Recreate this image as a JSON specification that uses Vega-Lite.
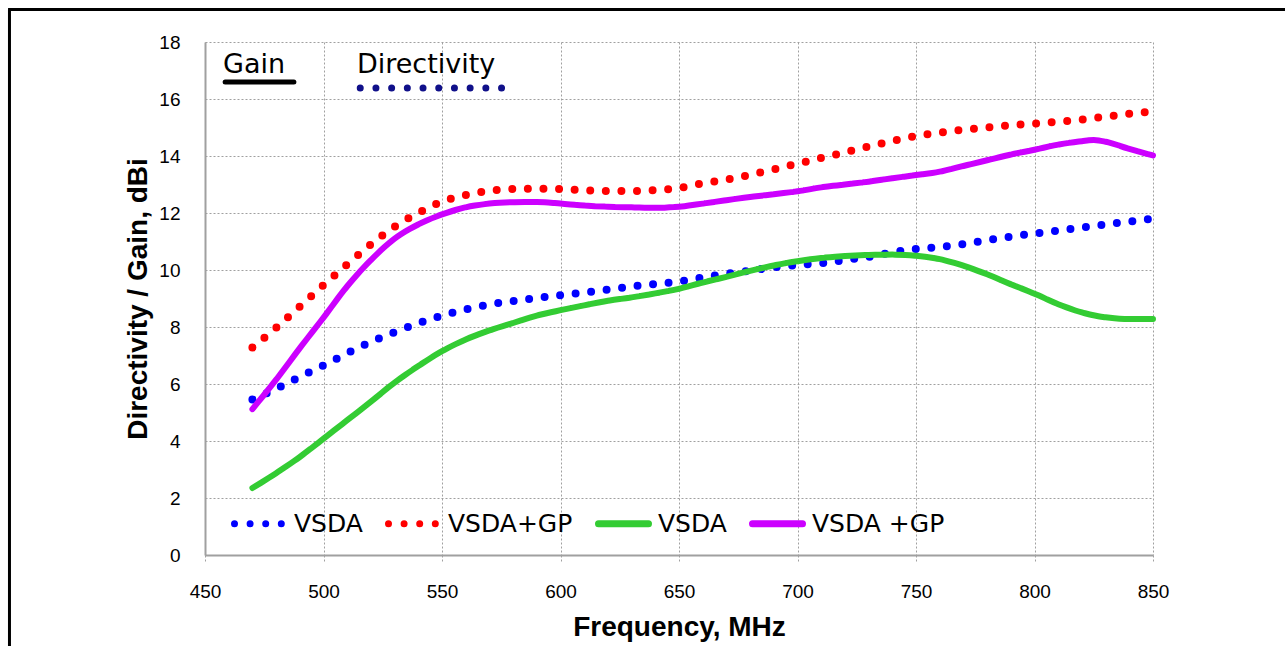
{
  "$schema": "https://vega.github.io/schema/vega-lite/v6.json",
  "autosize": {"type": "none"},
  "padding": {"left": 205, "top": 42, "right": 132, "bottom": 91},
  "width": 948,
  "height": 513,
  "background": "#ffffff",
  "config": {
    "view": {"stroke": null},
    "axis": {
      "grid": true,
      "gridColor": "#a0a0a0",
      "gridDash": [2, 2],
      "gridWidth": 1,
      "domainColor": "#a0a0a0",
      "domainWidth": 2,
      "labelFont": "Liberation Sans",
      "labelFontSize": 19,
      "labelColor": "#000000",
      "labelFlush": false,
      "labelOverlap": false,
      "titleFont": "Liberation Sans",
      "titleFontSize": 28,
      "titleFontWeight": "bold",
      "titleColor": "#000000"
    },
    "legend": {
      "labelFont": "DejaVu Sans",
      "labelFontSize": 25,
      "labelColor": "#000000"
    }
  },
  "datasets": {
    "curves": [
      {"f": 470, "v": 5.46, "s": "Directivity: VSDA"},
      {"f": 480, "v": 5.83, "s": "Directivity: VSDA"},
      {"f": 490, "v": 6.25, "s": "Directivity: VSDA"},
      {"f": 500, "v": 6.65, "s": "Directivity: VSDA"},
      {"f": 510, "v": 7.08, "s": "Directivity: VSDA"},
      {"f": 520, "v": 7.48, "s": "Directivity: VSDA"},
      {"f": 530, "v": 7.82, "s": "Directivity: VSDA"},
      {"f": 540, "v": 8.13, "s": "Directivity: VSDA"},
      {"f": 550, "v": 8.4, "s": "Directivity: VSDA"},
      {"f": 560, "v": 8.62, "s": "Directivity: VSDA"},
      {"f": 570, "v": 8.79, "s": "Directivity: VSDA"},
      {"f": 580, "v": 8.91, "s": "Directivity: VSDA"},
      {"f": 590, "v": 9.02, "s": "Directivity: VSDA"},
      {"f": 600, "v": 9.12, "s": "Directivity: VSDA"},
      {"f": 610, "v": 9.21, "s": "Directivity: VSDA"},
      {"f": 620, "v": 9.31, "s": "Directivity: VSDA"},
      {"f": 630, "v": 9.42, "s": "Directivity: VSDA"},
      {"f": 640, "v": 9.51, "s": "Directivity: VSDA"},
      {"f": 650, "v": 9.6, "s": "Directivity: VSDA"},
      {"f": 660, "v": 9.74, "s": "Directivity: VSDA"},
      {"f": 670, "v": 9.87, "s": "Directivity: VSDA"},
      {"f": 680, "v": 9.98, "s": "Directivity: VSDA"},
      {"f": 690, "v": 10.09, "s": "Directivity: VSDA"},
      {"f": 700, "v": 10.18, "s": "Directivity: VSDA"},
      {"f": 710, "v": 10.24, "s": "Directivity: VSDA"},
      {"f": 720, "v": 10.35, "s": "Directivity: VSDA"},
      {"f": 730, "v": 10.46, "s": "Directivity: VSDA"},
      {"f": 740, "v": 10.62, "s": "Directivity: VSDA"},
      {"f": 750, "v": 10.74, "s": "Directivity: VSDA"},
      {"f": 760, "v": 10.81, "s": "Directivity: VSDA"},
      {"f": 770, "v": 10.91, "s": "Directivity: VSDA"},
      {"f": 780, "v": 11.05, "s": "Directivity: VSDA"},
      {"f": 790, "v": 11.17, "s": "Directivity: VSDA"},
      {"f": 800, "v": 11.28, "s": "Directivity: VSDA"},
      {"f": 810, "v": 11.38, "s": "Directivity: VSDA"},
      {"f": 820, "v": 11.49, "s": "Directivity: VSDA"},
      {"f": 830, "v": 11.6, "s": "Directivity: VSDA"},
      {"f": 840, "v": 11.7, "s": "Directivity: VSDA"},
      {"f": 850, "v": 11.8, "s": "Directivity: VSDA"},

      {"f": 470, "v": 7.28, "s": "Directivity: VSDA+GP"},
      {"f": 480, "v": 7.97, "s": "Directivity: VSDA+GP"},
      {"f": 490, "v": 8.72, "s": "Directivity: VSDA+GP"},
      {"f": 500, "v": 9.47, "s": "Directivity: VSDA+GP"},
      {"f": 510, "v": 10.2, "s": "Directivity: VSDA+GP"},
      {"f": 520, "v": 10.9, "s": "Directivity: VSDA+GP"},
      {"f": 530, "v": 11.52, "s": "Directivity: VSDA+GP"},
      {"f": 540, "v": 12.0, "s": "Directivity: VSDA+GP"},
      {"f": 550, "v": 12.4, "s": "Directivity: VSDA+GP"},
      {"f": 560, "v": 12.63, "s": "Directivity: VSDA+GP"},
      {"f": 570, "v": 12.78, "s": "Directivity: VSDA+GP"},
      {"f": 580, "v": 12.84, "s": "Directivity: VSDA+GP"},
      {"f": 590, "v": 12.85, "s": "Directivity: VSDA+GP"},
      {"f": 600, "v": 12.84, "s": "Directivity: VSDA+GP"},
      {"f": 610, "v": 12.8, "s": "Directivity: VSDA+GP"},
      {"f": 620, "v": 12.77, "s": "Directivity: VSDA+GP"},
      {"f": 630, "v": 12.77, "s": "Directivity: VSDA+GP"},
      {"f": 640, "v": 12.8, "s": "Directivity: VSDA+GP"},
      {"f": 650, "v": 12.88, "s": "Directivity: VSDA+GP"},
      {"f": 660, "v": 13.04, "s": "Directivity: VSDA+GP"},
      {"f": 670, "v": 13.17, "s": "Directivity: VSDA+GP"},
      {"f": 680, "v": 13.34, "s": "Directivity: VSDA+GP"},
      {"f": 690, "v": 13.53, "s": "Directivity: VSDA+GP"},
      {"f": 700, "v": 13.73, "s": "Directivity: VSDA+GP"},
      {"f": 710, "v": 13.93, "s": "Directivity: VSDA+GP"},
      {"f": 720, "v": 14.13, "s": "Directivity: VSDA+GP"},
      {"f": 730, "v": 14.33, "s": "Directivity: VSDA+GP"},
      {"f": 740, "v": 14.53, "s": "Directivity: VSDA+GP"},
      {"f": 750, "v": 14.7, "s": "Directivity: VSDA+GP"},
      {"f": 760, "v": 14.82, "s": "Directivity: VSDA+GP"},
      {"f": 770, "v": 14.92, "s": "Directivity: VSDA+GP"},
      {"f": 780, "v": 15.0, "s": "Directivity: VSDA+GP"},
      {"f": 790, "v": 15.08, "s": "Directivity: VSDA+GP"},
      {"f": 800, "v": 15.14, "s": "Directivity: VSDA+GP"},
      {"f": 810, "v": 15.2, "s": "Directivity: VSDA+GP"},
      {"f": 820, "v": 15.28, "s": "Directivity: VSDA+GP"},
      {"f": 830, "v": 15.38, "s": "Directivity: VSDA+GP"},
      {"f": 840, "v": 15.48, "s": "Directivity: VSDA+GP"},
      {"f": 850, "v": 15.57, "s": "Directivity: VSDA+GP"},

      {"f": 470, "v": 2.35, "s": "Gain: VSDA"},
      {"f": 480, "v": 2.87, "s": "Gain: VSDA"},
      {"f": 490, "v": 3.44, "s": "Gain: VSDA"},
      {"f": 500, "v": 4.08, "s": "Gain: VSDA"},
      {"f": 510, "v": 4.73, "s": "Gain: VSDA"},
      {"f": 520, "v": 5.38, "s": "Gain: VSDA"},
      {"f": 530, "v": 6.05, "s": "Gain: VSDA"},
      {"f": 540, "v": 6.63, "s": "Gain: VSDA"},
      {"f": 550, "v": 7.15, "s": "Gain: VSDA"},
      {"f": 560, "v": 7.56, "s": "Gain: VSDA"},
      {"f": 570, "v": 7.88, "s": "Gain: VSDA"},
      {"f": 580, "v": 8.14, "s": "Gain: VSDA"},
      {"f": 590, "v": 8.4, "s": "Gain: VSDA"},
      {"f": 600, "v": 8.59, "s": "Gain: VSDA"},
      {"f": 610, "v": 8.76, "s": "Gain: VSDA"},
      {"f": 620, "v": 8.92, "s": "Gain: VSDA"},
      {"f": 630, "v": 9.04, "s": "Gain: VSDA"},
      {"f": 640, "v": 9.18, "s": "Gain: VSDA"},
      {"f": 650, "v": 9.34, "s": "Gain: VSDA"},
      {"f": 660, "v": 9.56, "s": "Gain: VSDA"},
      {"f": 670, "v": 9.76, "s": "Gain: VSDA"},
      {"f": 680, "v": 9.97, "s": "Gain: VSDA"},
      {"f": 690, "v": 10.16, "s": "Gain: VSDA"},
      {"f": 700, "v": 10.31, "s": "Gain: VSDA"},
      {"f": 710, "v": 10.42, "s": "Gain: VSDA"},
      {"f": 720, "v": 10.49, "s": "Gain: VSDA"},
      {"f": 730, "v": 10.53, "s": "Gain: VSDA"},
      {"f": 740, "v": 10.54, "s": "Gain: VSDA"},
      {"f": 750, "v": 10.5, "s": "Gain: VSDA"},
      {"f": 760, "v": 10.38, "s": "Gain: VSDA"},
      {"f": 770, "v": 10.15, "s": "Gain: VSDA"},
      {"f": 780, "v": 9.85, "s": "Gain: VSDA"},
      {"f": 790, "v": 9.5, "s": "Gain: VSDA"},
      {"f": 800, "v": 9.17, "s": "Gain: VSDA"},
      {"f": 810, "v": 8.8, "s": "Gain: VSDA"},
      {"f": 820, "v": 8.51, "s": "Gain: VSDA"},
      {"f": 830, "v": 8.34, "s": "Gain: VSDA"},
      {"f": 840, "v": 8.28, "s": "Gain: VSDA"},
      {"f": 850, "v": 8.28, "s": "Gain: VSDA"},

      {"f": 470, "v": 5.12, "s": "Gain: VSDA +GP"},
      {"f": 480, "v": 6.15, "s": "Gain: VSDA +GP"},
      {"f": 490, "v": 7.26, "s": "Gain: VSDA +GP"},
      {"f": 500, "v": 8.33, "s": "Gain: VSDA +GP"},
      {"f": 510, "v": 9.43, "s": "Gain: VSDA +GP"},
      {"f": 520, "v": 10.35, "s": "Gain: VSDA +GP"},
      {"f": 530, "v": 11.1, "s": "Gain: VSDA +GP"},
      {"f": 540, "v": 11.6, "s": "Gain: VSDA +GP"},
      {"f": 550, "v": 11.95, "s": "Gain: VSDA +GP"},
      {"f": 560, "v": 12.2, "s": "Gain: VSDA +GP"},
      {"f": 570, "v": 12.33, "s": "Gain: VSDA +GP"},
      {"f": 580, "v": 12.38, "s": "Gain: VSDA +GP"},
      {"f": 590, "v": 12.39, "s": "Gain: VSDA +GP"},
      {"f": 600, "v": 12.33, "s": "Gain: VSDA +GP"},
      {"f": 610, "v": 12.26, "s": "Gain: VSDA +GP"},
      {"f": 620, "v": 12.22, "s": "Gain: VSDA +GP"},
      {"f": 630, "v": 12.2, "s": "Gain: VSDA +GP"},
      {"f": 640, "v": 12.18, "s": "Gain: VSDA +GP"},
      {"f": 650, "v": 12.22, "s": "Gain: VSDA +GP"},
      {"f": 660, "v": 12.33, "s": "Gain: VSDA +GP"},
      {"f": 670, "v": 12.45, "s": "Gain: VSDA +GP"},
      {"f": 680, "v": 12.56, "s": "Gain: VSDA +GP"},
      {"f": 690, "v": 12.66, "s": "Gain: VSDA +GP"},
      {"f": 700, "v": 12.76, "s": "Gain: VSDA +GP"},
      {"f": 710, "v": 12.9, "s": "Gain: VSDA +GP"},
      {"f": 720, "v": 13.0, "s": "Gain: VSDA +GP"},
      {"f": 730, "v": 13.1, "s": "Gain: VSDA +GP"},
      {"f": 740, "v": 13.22, "s": "Gain: VSDA +GP"},
      {"f": 750, "v": 13.33, "s": "Gain: VSDA +GP"},
      {"f": 760, "v": 13.45, "s": "Gain: VSDA +GP"},
      {"f": 770, "v": 13.65, "s": "Gain: VSDA +GP"},
      {"f": 780, "v": 13.85, "s": "Gain: VSDA +GP"},
      {"f": 790, "v": 14.05, "s": "Gain: VSDA +GP"},
      {"f": 800, "v": 14.22, "s": "Gain: VSDA +GP"},
      {"f": 810, "v": 14.4, "s": "Gain: VSDA +GP"},
      {"f": 820, "v": 14.52, "s": "Gain: VSDA +GP"},
      {"f": 825, "v": 14.56, "s": "Gain: VSDA +GP"},
      {"f": 830, "v": 14.5, "s": "Gain: VSDA +GP"},
      {"f": 840, "v": 14.25, "s": "Gain: VSDA +GP"},
      {"f": 850, "v": 14.02, "s": "Gain: VSDA +GP"}
    ],
    "gainLabel": [{"label": "Gain"}],
    "dirLabel": [{"label": "Directivity"}]
  },
  "layer": [
    {
      "data": {"name": "curves"},
      "transform": [{"filter": "indexof(datum.s, 'Directivity') == 0"}],
      "mark": {"type": "line", "interpolate": "monotone", "strokeWidth": 8, "strokeCap": "round"},
      "encoding": {
        "x": {
          "field": "f",
          "type": "quantitative",
          "scale": {"domain": [450, 850], "nice": false, "zero": false},
          "axis": {
            "title": "Frequency, MHz",
            "values": [450, 500, 550, 600, 650, 700, 750, 800, 850],
            "tickSize": 7,
            "tickColor": "#a0a0a0",
            "tickDash": [2, 2],
            "labelPadding": 20,
            "titlePadding": 12
          }
        },
        "y": {
          "field": "v",
          "type": "quantitative",
          "scale": {"domain": [0, 18], "nice": false},
          "axis": {
            "title": "Directivity / Gain, dBi",
            "values": [0, 2, 4, 6, 8, 10, 12, 14, 16, 18],
            "ticks": false,
            "labelPadding": 25,
            "titlePadding": 6
          }
        },
        "color": {
          "field": "s",
          "type": "nominal",
          "scale": {
            "domain": ["Directivity: VSDA", "Directivity: VSDA+GP", "Gain: VSDA", "Gain: VSDA +GP"],
            "range": ["#0000ff", "#ff0000", "#33cc33", "#cc00ff"]
          },
          "legend": {
            "orient": "none",
            "legendX": 26,
            "legendY": 453,
            "direction": "horizontal",
            "columns": 4,
            "title": null,
            "padding": 0,
            "symbolType": "stroke",
            "symbolSize": 2500,
            "symbolStrokeWidth": 7,
            "labelOffset": 6,
            "columnPadding": 11,
            "labelExpr": "split(datum.label, ': ')[1]",
            "encode": {"symbols": {"update": {"strokeCap": {"value": "round"}}}}
          }
        },
        "strokeDash": {
          "field": "s",
          "type": "nominal",
          "scale": {
            "domain": ["Directivity: VSDA", "Directivity: VSDA+GP", "Gain: VSDA", "Gain: VSDA +GP"],
            "range": [[0, 15.6], [0, 15.6], [10, 0], [10, 0]]
          },
          "legend": null
        }
      }
    },
    {
      "data": {"name": "curves"},
      "transform": [{"filter": "indexof(datum.s, 'Gain') == 0"}],
      "mark": {"type": "line", "interpolate": "monotone", "strokeWidth": 6, "strokeCap": "round"},
      "encoding": {
        "x": {"field": "f", "type": "quantitative"},
        "y": {"field": "v", "type": "quantitative"},
        "color": {"field": "s", "type": "nominal"},
        "strokeDash": {"field": "s", "type": "nominal", "legend": null}
      }
    },
    {
      "data": {"name": "gainLabel"},
      "mark": {"type": "text", "font": "DejaVu Sans", "fontSize": 27, "align": "left", "baseline": "alphabetic", "fill": "#000000"},
      "encoding": {
        "text": {"field": "label", "type": "nominal"},
        "x": {"datum": 457.6, "type": "quantitative"},
        "y": {"datum": 16.91, "type": "quantitative"}
      }
    },
    {
      "data": {"name": "dirLabel"},
      "mark": {"type": "text", "font": "DejaVu Sans", "fontSize": 27, "align": "left", "baseline": "alphabetic", "fill": "#000000"},
      "encoding": {
        "text": {"field": "label", "type": "nominal"},
        "x": {"datum": 514.1, "type": "quantitative"},
        "y": {"datum": 16.91, "type": "quantitative"}
      }
    },
    {
      "data": {"name": "gainLabel"},
      "mark": {"type": "rule", "color": "#000000", "strokeWidth": 5, "strokeCap": "round"},
      "encoding": {
        "x": {"datum": 458.5, "type": "quantitative"},
        "x2": {"datum": 487.5},
        "y": {"datum": 16.6, "type": "quantitative"}
      }
    },
    {
      "data": {"name": "dirLabel"},
      "mark": {"type": "rule", "color": "#10108a", "strokeWidth": 7, "strokeCap": "round", "strokeDash": [0, 15.7]},
      "encoding": {
        "x": {"datum": 515.5, "type": "quantitative"},
        "x2": {"datum": 575.3},
        "y": {"datum": 16.39, "type": "quantitative"}
      }
    },
    {
      "data": {"name": "gainLabel"},
      "mark": {"type": "rule", "color": "#000000", "strokeWidth": 3},
      "encoding": {
        "x": {"datum": 367.5, "type": "quantitative"},
        "y": {"datum": 19.14, "type": "quantitative"},
        "y2": {"datum": -3.3}
      }
    },
    {
      "data": {"name": "gainLabel"},
      "mark": {"type": "rule", "color": "#000000", "strokeWidth": 3},
      "encoding": {
        "x": {"datum": 366.9, "type": "quantitative"},
        "x2": {"datum": 906},
        "y": {"datum": 19.14, "type": "quantitative"}
      }
    }
  ]
}
